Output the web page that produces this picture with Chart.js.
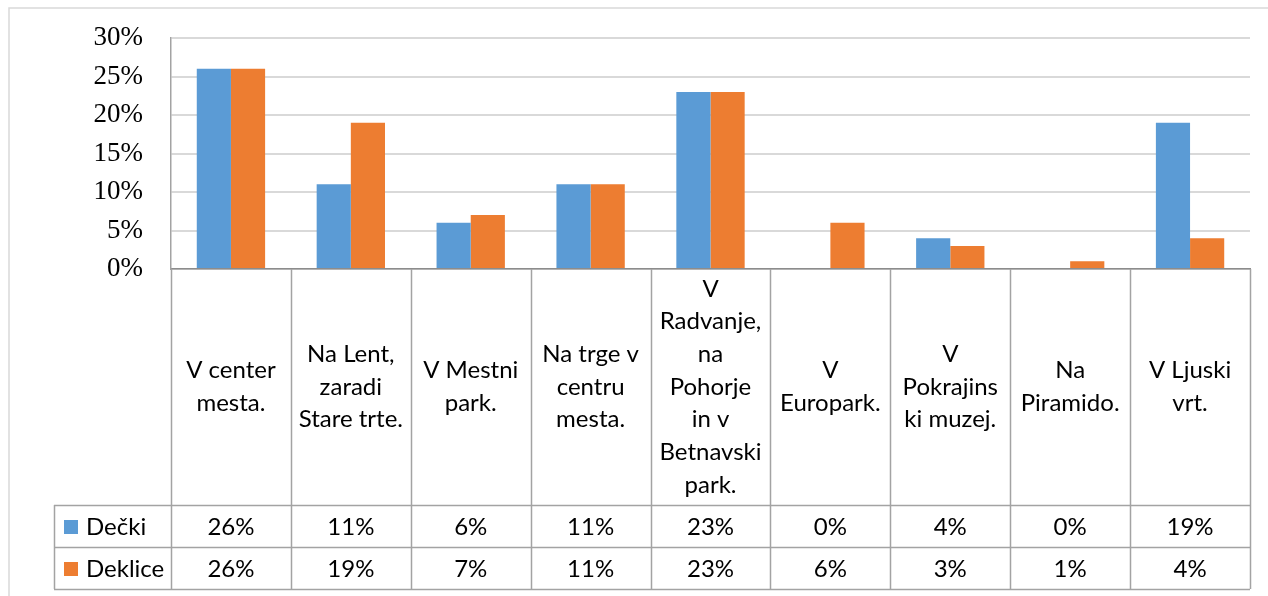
<!DOCTYPE html>
<html>
<head>
<meta charset="utf-8">
<script src="https://cdn.jsdelivr.net/npm/chart.js@4/dist/chart.umd.min.js"></script>
<style>
  html, body { margin: 0; padding: 0; background: #ffffff; }
  #wrap { position: relative; width: 1268px; height: 596px; }
</style>
</head>
<body>
<div id="wrap"><canvas id="c" width="1268" height="596"></canvas></div>
<script>
const categories = [
  ["V center", "mesta."],
  ["Na Lent,", "zaradi", "Stare trte."],
  ["V Mestni", "park."],
  ["Na trge v", "centru", "mesta."],
  ["V", "Radvanje,", "na", "Pohorje", "in v", "Betnavski", "park."],
  ["V", "Europark."],
  ["V", "Pokrajins", "ki muzej."],
  ["Na", "Piramido."],
  ["V Ljuski", "vrt."]
];
const seriesNames = ["Dečki", "Deklice"];
const decki = [26, 11, 6, 11, 23, 0, 4, 0, 19];
const deklice = [26, 19, 7, 11, 23, 6, 3, 1, 4];
const yTicks = [0, 5, 10, 15, 20, 25, 30];
const colors = ["#5B9BD5", "#ED7D31"];

const TABLE_FONT = "24px Lato";
const HEADER_H = 236;
const ROW_H = 42;
const LEGEND_LEFT = 54;

const tablePlugin = {
  id: "dataTable",
  afterDraw(chart) {
    const ctx = chart.ctx;
    const x = chart.scales.x;
    const area = chart.chartArea;
    const n = categories.length;
    const step = (x.right - x.left) / n;
    const top = area.bottom;
    const hBottom = top + HEADER_H;
    const r1 = hBottom + ROW_H;
    const r2 = r1 + ROW_H;
    ctx.save();
    ctx.strokeStyle = "#d9d9d9";
    ctx.lineWidth = 1.5;
    ctx.beginPath();
    ctx.moveTo(9, 700); ctx.lineTo(9, 8); ctx.lineTo(1300, 8);
    ctx.stroke();

    ctx.strokeStyle = "#a3a3a3";
    ctx.lineWidth = 1.5;
    ctx.beginPath();
    for (let i = 0; i <= n; i++) {
      const px = Math.round(x.left + i * step) + 0.5;
      ctx.moveTo(px, top); ctx.lineTo(px, r2);
    }
    ctx.moveTo(LEGEND_LEFT + 0.5, hBottom); ctx.lineTo(LEGEND_LEFT + 0.5, r2);
    [hBottom, r1, r2].forEach(yy => {
      ctx.moveTo(LEGEND_LEFT, Math.round(yy) + 0.5); ctx.lineTo(x.right, Math.round(yy) + 0.5);
    });
    ctx.stroke();

    ctx.fillStyle = "#000000";
    ctx.font = TABLE_FONT;
    ctx.textAlign = "center";
    ctx.textBaseline = "middle";
    const lh = 32.7;
    const midH = top + HEADER_H / 2;
    categories.forEach((lines, i) => {
      const cx = x.getPixelForValue(i);
      const start = midH - (lines.length - 1) * lh / 2;
      lines.forEach((t, k) => ctx.fillText(t, cx, start + k * lh));
    });

    const rows = [decki, deklice];
    rows.forEach((vals, r) => {
      const cy = hBottom + ROW_H * r + ROW_H / 2 + 1;
      vals.forEach((v, i) => {
        ctx.fillText(v + "%", x.getPixelForValue(i), cy);
      });
      ctx.fillStyle = colors[r];
      ctx.fillRect(64, cy - 7, 14, 14);
      ctx.fillStyle = "#000000";
      ctx.textAlign = "left";
      ctx.fillText(seriesNames[r], 86, cy);
      ctx.textAlign = "center";
    });
    ctx.restore();
  }
};

new Chart(document.getElementById("c"), {
  type: "bar",
  data: {
    labels: categories.map(c => c.join(" ")),
    datasets: [
      { label: seriesNames[0], data: decki, backgroundColor: colors[0], borderWidth: 0,
        categoryPercentage: 0.57, barPercentage: 1.0 },
      { label: seriesNames[1], data: deklice, backgroundColor: colors[1], borderWidth: 0,
        categoryPercentage: 0.57, barPercentage: 1.0 }
    ]
  },
  options: {
    responsive: false,
    animation: false,
    devicePixelRatio: 1,
    layout: { padding: { left: 0, right: 18, top: 38, bottom: 7 } },
    plugins: { legend: { display: false }, tooltip: { enabled: false } },
    scales: {
      x: {
        grid: { display: false },
        border: { display: true, color: "#8c8c8c", width: 1.5 },
        ticks: { display: false },
        afterFit(s) { s.height = 320; s.paddingLeft = 0; s.paddingRight = 0; }
      },
      y: {
        min: 0, max: 30,
        afterBuildTicks(s) { s.ticks = yTicks.map(v => ({ value: v })); },
        afterFit(s) { s.width = 171; s.paddingTop = 0; s.paddingBottom = 0; },
        grid: { color: "#d9d9d9", lineWidth: 2, drawTicks: false },
        border: { display: true, color: "#a3a3a3", width: 1.5 },
        ticks: {
          padding: 28,
          color: "#000000",
          font: { family: "Liberation Serif", size: 27 },
          callback: v => v + "%"
        }
      }
    }
  },
  plugins: [tablePlugin]
});
</script>
</body>
</html>
